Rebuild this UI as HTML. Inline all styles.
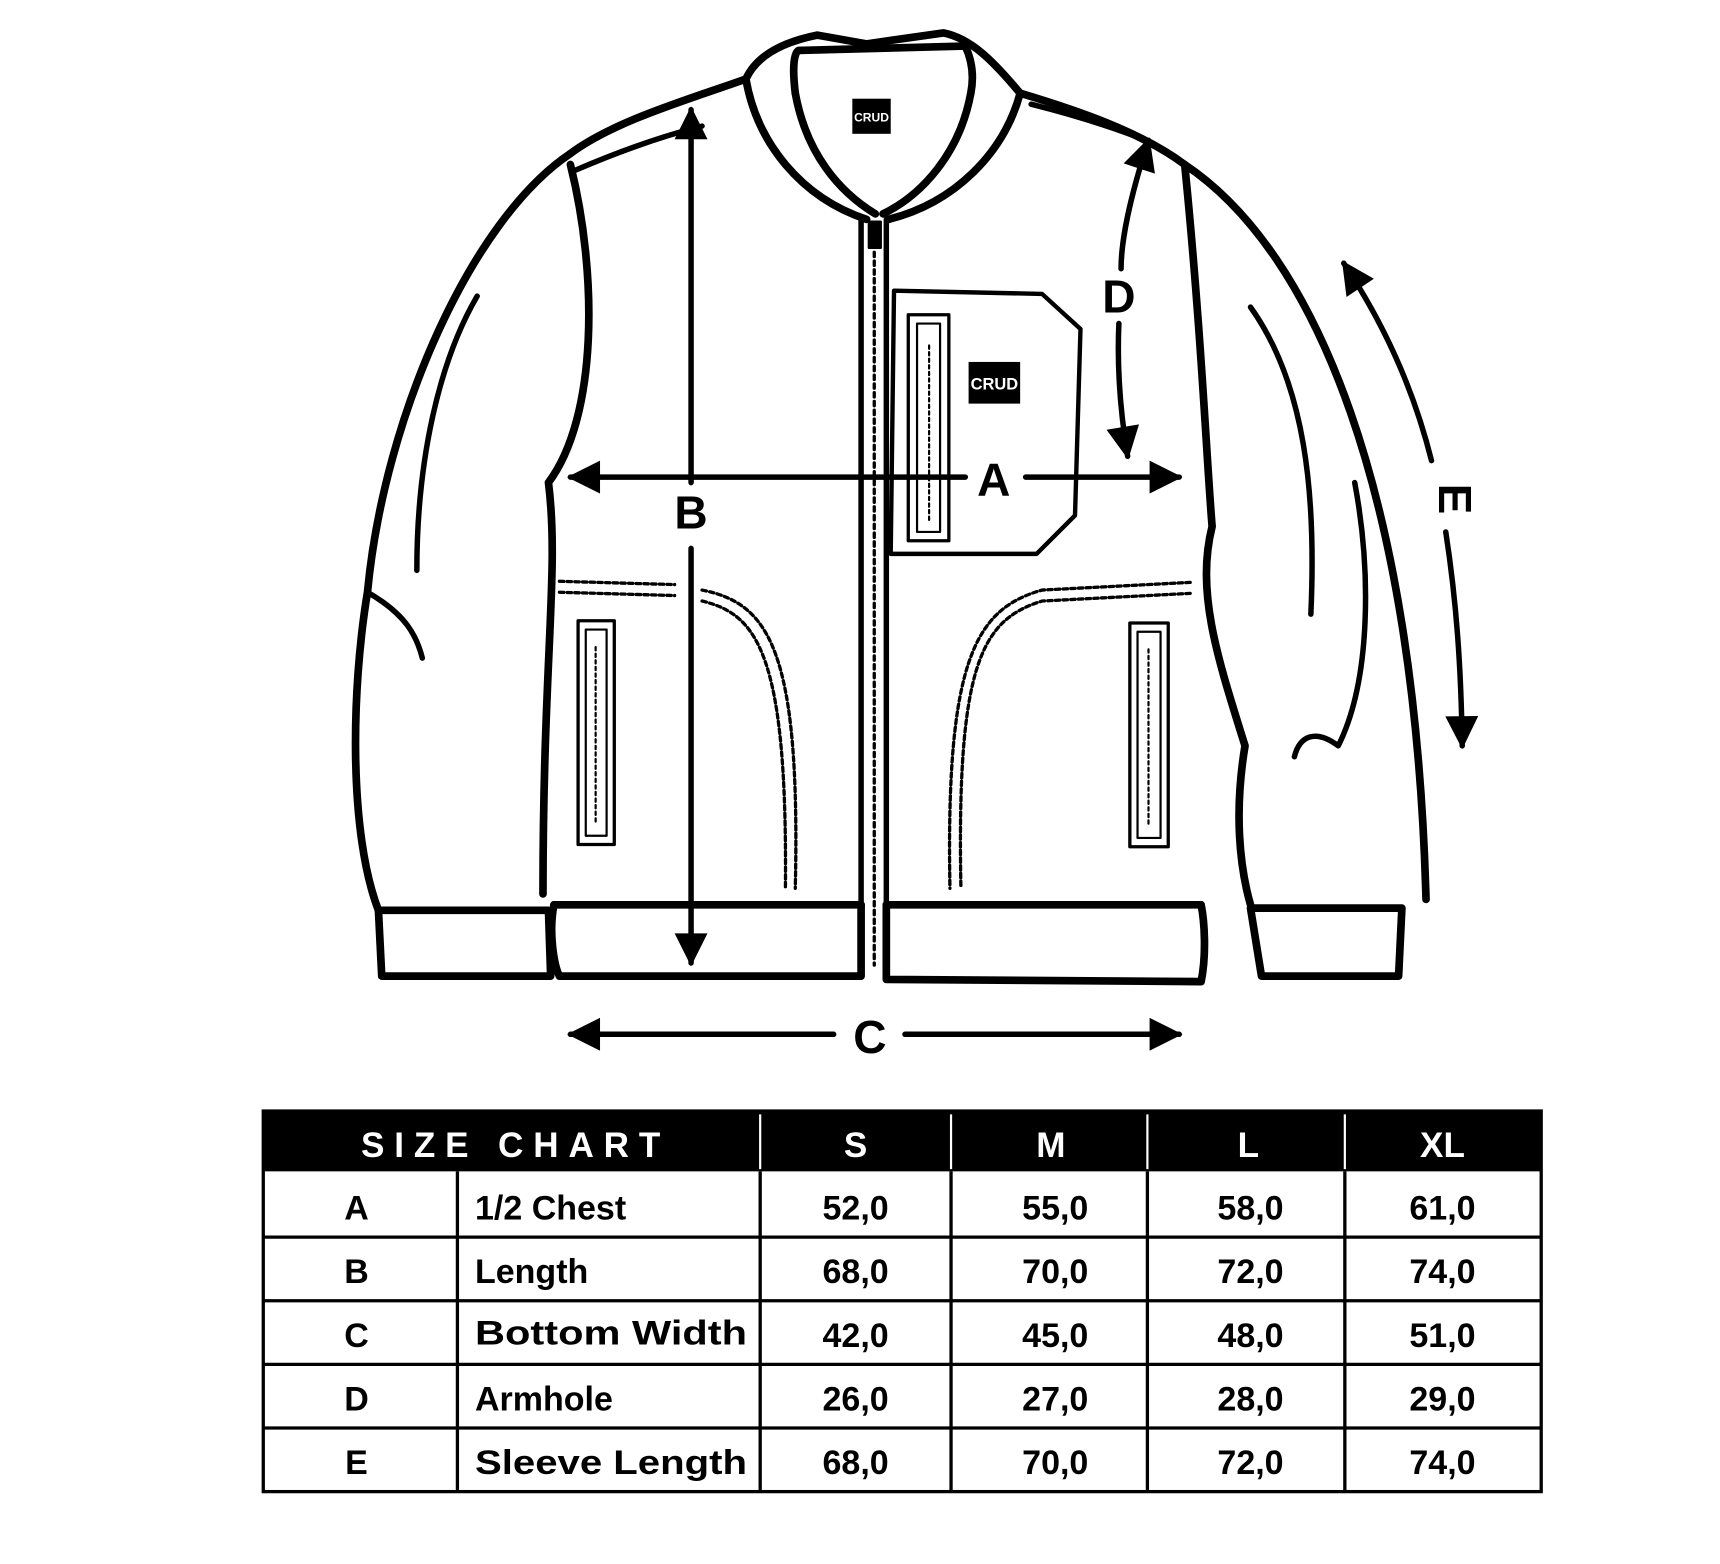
<!DOCTYPE html>
<html><head><meta charset="utf-8"><style>
html,body{margin:0;padding:0;background:#fff}
svg{display:block}
text{font-family:"Liberation Sans",sans-serif;font-weight:bold}
</style></head><body>
<svg width="1720" height="1564" viewBox="0 0 1568 1426" preserveAspectRatio="none" xmlns="http://www.w3.org/2000/svg">
<defs>
<marker id="ah" viewBox="0 0 10 10" refX="9" refY="5" markerWidth="6.5" markerHeight="6" orient="auto-start-reverse"><path d="M0,0 L10,5 L0,10 z" fill="#000"/></marker>
</defs>
<g fill="none" stroke="#000" stroke-width="7" stroke-linecap="round" stroke-linejoin="round">
<!-- collar -->
<path d="M680,72 C690,50 715,38 745,32 L790,40 L860,30 C885,35 905,55 930,85"/>
<path d="M725,85 C722,60 724,48 728,46 L880,42 C886,55 888,70 885,85"/>
<path d="M680,72 C690,130 730,180 790,200"/>
<path d="M930,85 C915,140 870,185 810,200"/>
<path d="M725,85 C735,140 765,175 798,195"/>
<path d="M885,85 C875,140 840,178 805,195"/>
<!-- shoulders -->
<path d="M680,72 C630,90 560,110 520,140"/>
<path d="M930,85 C980,100 1040,120 1080,150"/>
<path d="M525,155 C560,140 600,125 640,115" stroke-width="5"/>
<path d="M940,95 C980,105 1020,118 1050,130" stroke-width="5"/>
<!-- left sleeve -->
<path d="M520,140 C430,200 350,380 335,540 C320,630 318,760 345,830"/>
<path d="M520,150 C545,250 545,380 500,440 C510,520 495,600 495,815"/>
<path d="M345,830 L500,830 L502,890 L348,890 Z"/>
<path d="M335,540 C370,560 380,580 385,600" stroke-width="5"/>
<path d="M435,270 C400,330 380,420 380,520" stroke-width="5"/>
<!-- right sleeve -->
<path d="M1080,150 C1200,230 1290,450 1300,820"/>
<path d="M1080,150 C1095,300 1100,420 1105,480 C1090,540 1110,600 1135,680 C1125,740 1130,790 1140,825"/>
<path d="M1140,828 L1278,828 L1275,890 L1150,890 Z"/>
<path d="M1140,280 C1190,350 1200,450 1195,560" stroke-width="5"/>
<path d="M1235,440 C1250,520 1250,620 1220,680 C1200,665 1185,670 1180,690" stroke-width="5"/>
<!-- body -->
<path d="M505,825 L785,825 M808,825 L1095,825"/>
<path d="M505,825 C500,850 505,880 510,890 L785,890 L785,825"/>
<path d="M808,825 L808,893 L1095,895 C1100,870 1098,840 1095,825"/>
<!-- zipper -->
<path d="M785,200 L785,890 M808,200 L808,890" stroke-width="5"/>
<path d="M797,230 L797,880" stroke-width="3" stroke-dasharray="4,4"/>
<rect x="792" y="202" width="11" height="24" fill="#000" stroke-width="2"/>
<!-- chest pocket -->
<path d="M815,265 L950,268 L985,300 L980,470 L945,505 L812,505 Z" stroke-width="4"/>
<rect x="828" y="287" width="37" height="206" stroke-width="3"/>
<rect x="836" y="295" width="21" height="190" stroke-width="2"/>
<path d="M847,315 L847,475" stroke-width="2" stroke-dasharray="3,3"/>
<!-- lower pockets -->
<path d="M510,530 L615,533 M510,540 L615,543" stroke-width="3" stroke-dasharray="4,3"/>
<path d="M640,538 C700,550 730,590 725,810 M640,548 C690,560 718,595 716,810" stroke-width="3" stroke-dasharray="4,3"/>
<path d="M1085,531 L950,538 C890,555 862,600 866,810 M1085,541 L950,548 C895,565 872,605 876,810" stroke-width="3" stroke-dasharray="4,3"/>
<rect x="527" y="566" width="33" height="204" stroke-width="3"/>
<rect x="534" y="574" width="19" height="188" stroke-width="2"/>
<path d="M543,590 L543,750" stroke-width="2" stroke-dasharray="3,3"/>
<rect x="1030" y="568" width="35" height="204" stroke-width="3"/>
<rect x="1037" y="576" width="21" height="188" stroke-width="2"/>
<path d="M1047,592 L1047,752" stroke-width="2" stroke-dasharray="3,3"/>
<!-- arrows -->
<path d="M520,435 L880,435 M935,435 L1075,435" stroke-width="5" marker-start="url(#ah)" marker-end="url(#ah)"/>
<path d="M630,100 L630,440 M630,500 L630,878" stroke-width="5" marker-start="url(#ah)" marker-end="url(#ah)"/>
<path d="M520,943 L760,943 M825,943 L1075,943" stroke-width="5" marker-start="url(#ah)" marker-end="url(#ah)"/>
<path d="M1047,128 C1030,180 1022,220 1022,245" stroke-width="5" marker-start="url(#ah)"/>
<path d="M1020,295 C1018,340 1022,380 1028,416" stroke-width="5" marker-end="url(#ah)"/>
<path d="M1225,240 C1265,300 1290,360 1305,420" stroke-width="5" marker-start="url(#ah)"/>
<path d="M1318,485 C1328,550 1332,610 1333,680" stroke-width="5" marker-end="url(#ah)"/>
</g>
<rect x="777" y="90" width="35" height="32" fill="#000"/>
<text x="794.5" y="111" font-size="11" fill="#fff" text-anchor="middle" font-weight="normal">CRUD</text>
<rect x="883" y="330" width="47" height="38" fill="#000"/>
<text x="906.5" y="355" font-size="15" fill="#fff" text-anchor="middle" font-weight="normal">CRUD</text>
<g font-size="42" text-anchor="middle">
<text x="906" y="452">A</text>
<text x="630" y="482">B</text>
<text x="793" y="960">C</text>
<text x="1020" y="285">D</text>
<text transform="translate(1312,455) rotate(90)" y="0">E</text>
</g>
<!-- table -->
<rect x="240" y="1013" width="1165" height="55" fill="#000"/>
<g stroke="#000" stroke-width="3" fill="none">
<rect x="240" y="1013" width="1165" height="347"/>
<path d="M240,1128 H1405 M240,1186 H1405 M240,1244 H1405 M240,1302 H1405"/>
<path d="M417,1068 V1360 M693,1068 V1360 M867,1068 V1360 M1046,1068 V1360 M1226,1068 V1360"/>
</g>
<g stroke="#fff" stroke-width="2"><path d="M693,1016 V1066 M867,1016 V1066 M1046,1016 V1066 M1226,1016 V1066"/></g>
<g font-size="32" fill="#fff" text-anchor="middle">
<text x="470" y="1055" letter-spacing="9">SIZE CHART</text>
<text x="780" y="1055">S</text><text x="958" y="1055">M</text><text x="1138" y="1055">L</text><text x="1315" y="1055">XL</text>
</g>
<g font-size="31" fill="#000">
<g text-anchor="middle">
<text x="325" y="1112">A</text><text x="325" y="1170">B</text><text x="325" y="1228">C</text><text x="325" y="1286">D</text><text x="325" y="1344">E</text>
</g>
<text x="433" y="1112">1/2 Chest</text><text x="433" y="1170">Length</text><text x="433" y="1226" textLength="248" lengthAdjust="spacingAndGlyphs">Bottom Width</text><text x="433" y="1286">Armhole</text><text x="433" y="1344" textLength="248" lengthAdjust="spacingAndGlyphs">Sleeve Length</text>
<g text-anchor="middle">
<text x="780" y="1112">52,0</text><text x="962" y="1112">55,0</text><text x="1140" y="1112">58,0</text><text x="1315" y="1112">61,0</text>
<text x="780" y="1170">68,0</text><text x="962" y="1170">70,0</text><text x="1140" y="1170">72,0</text><text x="1315" y="1170">74,0</text>
<text x="780" y="1228">42,0</text><text x="962" y="1228">45,0</text><text x="1140" y="1228">48,0</text><text x="1315" y="1228">51,0</text>
<text x="780" y="1286">26,0</text><text x="962" y="1286">27,0</text><text x="1140" y="1286">28,0</text><text x="1315" y="1286">29,0</text>
<text x="780" y="1344">68,0</text><text x="962" y="1344">70,0</text><text x="1140" y="1344">72,0</text><text x="1315" y="1344">74,0</text>
</g>
</g>
</svg>
</body></html>
